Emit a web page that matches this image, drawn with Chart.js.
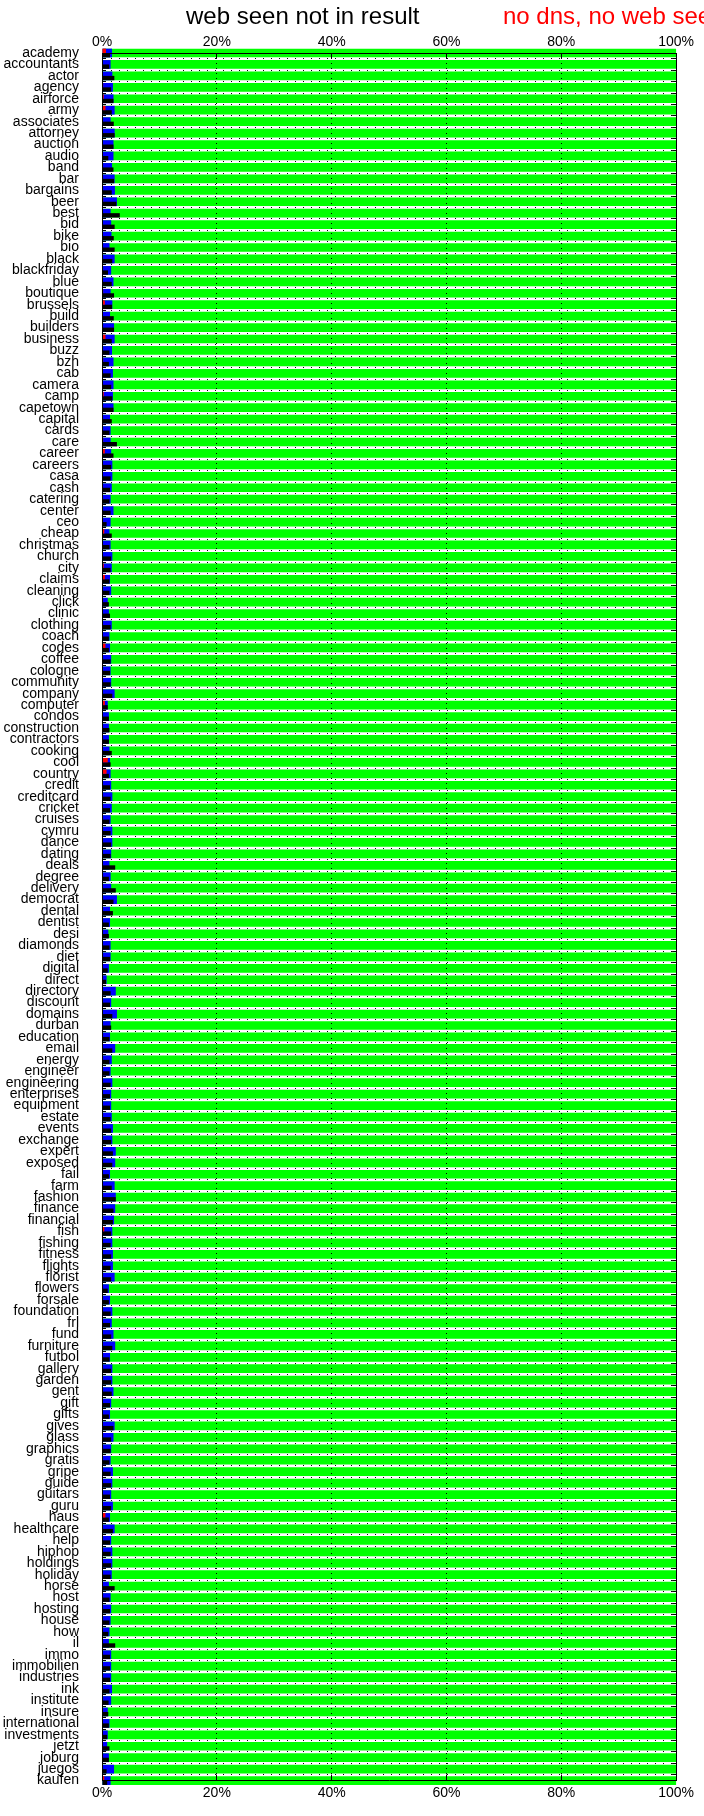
<!DOCTYPE html>
<html>
<head>
<meta charset="utf-8">
<script src="https://cdn.jsdelivr.net/npm/chart.js@4.4.1/dist/chart.umd.min.js"></script>
<style>
	html, body { margin: 0; padding: 0; background: #fff; }
	#wrap { position: relative; width: 704px; height: 1816px; overflow: hidden; }
	.key { position: absolute; top: 4px; font-family: 'Liberation Sans', Arial, sans-serif; font-size: 24px; line-height: 24px; white-space: nowrap; }
</style>
</head>
<body>
<div id="wrap">
	<canvas id="chart" width="704" height="1816"></canvas>
</div>
<script>
const tlds = [
	'academy', 'accountants', 'actor', 'agency', 'airforce', 'army', 'associates', 'attorney', 'auction', 'audio',
	'band', 'bar', 'bargains', 'beer', 'best', 'bid', 'bike', 'bio', 'black', 'blackfriday',
	'blue', 'boutique', 'brussels', 'build', 'builders', 'business', 'buzz', 'bzh', 'cab', 'camera',
	'camp', 'capetown', 'capital', 'cards', 'care', 'career', 'careers', 'casa', 'cash', 'catering',
	'center', 'ceo', 'cheap', 'christmas', 'church', 'city', 'claims', 'cleaning', 'click', 'clinic',
	'clothing', 'coach', 'codes', 'coffee', 'cologne', 'community', 'company', 'computer', 'condos', 'construction',
	'contractors', 'cooking', 'cool', 'country', 'credit', 'creditcard', 'cricket', 'cruises', 'cymru', 'dance',
	'dating', 'deals', 'degree', 'delivery', 'democrat', 'dental', 'dentist', 'desi', 'diamonds', 'diet',
	'digital', 'direct', 'directory', 'discount', 'domains', 'durban', 'education', 'email', 'energy', 'engineer',
	'engineering', 'enterprises', 'equipment', 'estate', 'events', 'exchange', 'expert', 'exposed', 'fail', 'farm',
	'fashion', 'finance', 'financial', 'fish', 'fishing', 'fitness', 'flights', 'florist', 'flowers', 'forsale',
	'foundation', 'frl', 'fund', 'furniture', 'futbol', 'gallery', 'garden', 'gent', 'gift', 'gifts',
	'gives', 'glass', 'graphics', 'gratis', 'gripe', 'guide', 'guitars', 'guru', 'haus', 'healthcare',
	'help', 'hiphop', 'holdings', 'holiday', 'horse', 'host', 'hosting', 'house', 'how', 'il',
	'immo', 'immobilien', 'industries', 'ink', 'institute', 'insure', 'international', 'investments', 'jetzt', 'joburg',
	'juegos', 'kaufen',
];

// percent of domains per tld
const noDns = [
	0.7, 0, 0, 0.2, 0.3, 0.6, 0, 0, 0, 0,
	0, 0, 0, 0.2, 0, 0, 0, 0, 0, 0,
	0, 0.2, 0.5, 0, 0, 0.6, 0, 0.2, 0, 0,
	0.3, 0, 0, 0, 0.2, 0.5, 0, 0, 0, 0,
	0, 0, 0.4, 0, 0, 0.3, 0.5, 0, 0, 0,
	0, 0, 0.6, 0, 0, 0, 0, 0.5, 0, 0,
	0, 0, 1.0, 0.8, 0, 0, 0, 0, 0, 0,
	0, 0, 0, 0, 0, 0, 0, 0, 0, 0,
	0, 0, 0, 0, 0, 0, 0, 0, 0, 0,
	0, 0, 0, 0, 0, 0, 0, 0, 0, 0,
	0, 0, 0, 0.4, 0, 0, 0, 0, 0, 0,
	0, 0, 0, 0, 0, 0, 0, 0, 0, 0,
	0, 0, 0, 0, 0, 0, 0, 0, 0.6, 0,
	0, 0, 0, 0, 0, 0, 0, 0, 0, 0,
	0, 0, 0, 0, 0, 0, 0, 0, 0, 0,
	0, 0.4,
];
const webNotInResult = [
	1.4, 1.25, 2.15, 1.6, 2.0, 1.7, 2.05, 2.2, 2.0, 1.1,
	2.0, 2.1, 1.7, 2.5, 3.1, 2.2, 2.05, 2.2, 1.8, 1.05,
	1.7, 2.1, 1.75, 2.05, 2.1, 1.7, 1.3, 1.2, 1.5, 1.6,
	1.8, 2.0, 1.7, 1.3, 2.6, 2.0, 1.6, 1.5, 1.4, 1.3,
	1.5, 0.8, 1.7, 1.3, 1.6, 1.5, 1.3, 1.3, 1.2, 1.4,
	1.5, 1.2, 1.2, 1.5, 1.4, 1.5, 1.8, 1.0, 1.2, 1.3,
	1.2, 1.7, 1.5, 1.2, 1.4, 1.5, 1.4, 1.3, 1.5, 1.6,
	1.5, 2.3, 1.2, 2.4, 2.0, 1.9, 1.2, 1.2, 1.3, 1.4,
	1.0, 0.7, 1.5, 1.4, 1.8, 1.6, 1.3, 1.8, 1.3, 1.3,
	1.5, 1.4, 1.4, 1.5, 1.6, 1.6, 1.9, 1.8, 1.2, 1.7,
	2.4, 2.0, 1.9, 1.6, 1.5, 1.6, 1.5, 1.6, 1.0, 1.2,
	1.5, 1.4, 1.6, 1.8, 1.3, 1.6, 1.6, 1.7, 1.4, 1.2,
	2.0, 1.6, 1.5, 1.3, 1.5, 1.6, 1.4, 1.6, 1.2, 1.9,
	1.4, 1.5, 1.6, 1.5, 2.2, 1.3, 1.4, 1.3, 1.1, 2.3,
	1.4, 1.4, 1.4, 1.3, 1.15, 1.1, 1.2, 0.9, 1.3, 1.2,
	0.8, 0.9,
];
const dnsOnly = [
	1.75, 1.5, 1.8, 1.9, 2.0, 2.2, 1.5, 2.2, 2.0, 2.0,
	1.75, 2.2, 2.25, 2.6, 1.5, 1.6, 1.65, 1.3, 2.2, 1.6,
	2.0, 1.5, 1.8, 1.4, 2.1, 2.2, 1.75, 2.0, 1.9, 2.0,
	1.9, 2.0, 1.4, 1.5, 1.5, 1.6, 1.8, 1.8, 1.7, 1.5,
	2.0, 1.5, 1.3, 1.5, 1.8, 1.7, 1.4, 1.6, 1.0, 1.2,
	1.7, 1.3, 1.4, 1.6, 1.5, 1.6, 2.2, 1.0, 1.2, 1.2,
	1.2, 1.3, 1.4, 1.5, 1.6, 1.8, 1.7, 1.5, 1.8, 1.8,
	1.6, 1.3, 1.5, 1.6, 2.6, 1.4, 1.4, 1.1, 1.5, 1.5,
	1.2, 0.8, 2.4, 1.6, 2.6, 1.5, 1.4, 2.3, 1.7, 1.5,
	1.8, 1.6, 1.6, 1.7, 1.9, 1.8, 2.4, 2.3, 1.4, 2.2,
	2.4, 2.3, 2.1, 1.8, 1.8, 1.9, 1.9, 2.2, 1.2, 1.4,
	1.8, 1.7, 2.0, 2.3, 1.4, 1.8, 1.8, 2.0, 1.6, 1.4,
	2.2, 2.0, 1.6, 1.5, 1.9, 1.8, 1.6, 1.9, 1.4, 2.2,
	1.6, 1.8, 1.8, 1.7, 1.2, 1.5, 1.6, 1.5, 1.3, 1.2,
	1.6, 1.6, 1.6, 1.75, 1.6, 1.0, 1.3, 1.0, 0.9, 1.2,
	2.1, 1.5,
];
const allDomains = [
	100, 100, 100, 100, 100, 100, 100, 100, 100, 100,
	100, 100, 100, 100, 100, 100, 100, 100, 100, 100,
	100, 100, 100, 100, 100, 100, 100, 100, 100, 100,
	100, 100, 100, 100, 100, 100, 100, 100, 100, 100,
	100, 100, 100, 100, 100, 100, 100, 100, 100, 100,
	100, 100, 100, 100, 100, 100, 100, 100, 100, 100,
	100, 100, 100, 100, 100, 100, 100, 100, 100, 100,
	100, 100, 100, 100, 100, 100, 100, 100, 100, 100,
	100, 100, 100, 100, 100, 100, 100, 100, 100, 100,
	100, 100, 100, 100, 100, 100, 100, 100, 100, 100,
	100, 100, 100, 100, 100, 100, 100, 100, 100, 100,
	100, 100, 100, 100, 100, 100, 100, 100, 100, 100,
	100, 100, 100, 100, 100, 100, 100, 100, 100, 100,
	100, 100, 100, 100, 100, 100, 100, 100, 100, 100,
	100, 100, 100, 100, 100, 100, 100, 100, 100, 100,
	100, 100,
];
const percentTicks = [0, 20, 40, 60, 80, 100];

const font = { family: "'Liberation Sans', Arial, sans-serif", size: 14 };

// gnuplot key: only the first two titles fit on the page
const keyItems = [
	{ label: 'web seen not in result', color: '#000000', left: 186 },
	{ label: 'no dns, no web seen', color: '#ff0000', left: 503 },
];
const $wrap = document.getElementById('wrap');
keyItems.forEach((item) => {
	const $span = document.createElement('span');
	$span.className = 'key';
	$span.style.left = item.left + 'px';
	$span.style.color = item.color;
	$span.textContent = item.label;
	$wrap.appendChild($span);
});

const xAxis = (position, height) => ({
	type: 'linear',
	position: position,
	min: 0,
	max: 100,
	afterBuildTicks: (axis) => {
		axis.ticks = percentTicks.map((v) => ({ value: v }));
	},
	afterFit: (axis) => {
		axis.height = height;
	},
	ticks: {
		color: '#000',
		font: font,
		padding: position === 'top' ? 8 : 10,
		maxRotation: 0,
		callback: (v) => v + '%',
	},
	grid: {
		z: 1,
		color: '#000',
		lineWidth: 1,
		drawOnChartArea: position === 'bottom',
		drawTicks: true,
		tickLength: -6,
		tickColor: '#000',
		tickWidth: 1,
	},
	border: { display: true, color: '#000', width: 1, z: 1, dash: [1, 4] },
});

let ctx = document.getElementById('chart').getContext('2d');
let dataChart = new Chart(ctx, {
	type: 'bar',
	data: {
		labels: tlds,
		datasets: [
			{
				label: keyItems[1].label,
				data: noDns,
				backgroundColor: '#ff0000',
				categoryPercentage: 0.76,
				barPercentage: 1,
				clip: false,
			},
			{
				label: keyItems[0].label,
				data: webNotInResult,
				backgroundColor: '#000000',
				categoryPercentage: 0.76,
				barPercentage: 1,
				clip: false,
			},
			{
				label: 'dns, no web',
				data: dnsOnly,
				backgroundColor: '#0000ff',
				grouped: false,
				categoryPercentage: 1,
				barPercentage: 0.76,
				clip: false,
			},
			{
				label: 'all',
				data: allDomains,
				backgroundColor: '#00ff00',
				grouped: false,
				categoryPercentage: 1,
				barPercentage: 0.76,
				clip: false,
			},
		],
	},
	options: {
		indexAxis: 'y',
		responsive: false,
		animation: false,
		devicePixelRatio: 1,
		layout: {
			padding: { top: 0, left: 0, right: 17, bottom: 0 },
		},
		scales: {
			x: xAxis('bottom', 21),
			x2: xAxis('top', 53),
			y: {
				type: 'category',
				position: 'left',
				offset: false,
				stacked: false,
				afterFit: (axis) => {
					axis.width = 102;
				},
				ticks: {
					autoSkip: false,
					color: '#000',
					font: font,
					padding: 27,
				},
				grid: {
					z: 1,
					color: '#000',
					lineWidth: 1,
					drawTicks: true,
					tickLength: -4,
					tickColor: '#000',
				},
				border: { display: true, color: '#000', width: 1, z: 1, dash: [1, 7] },
			},
			y2: {
				type: 'category',
				position: 'right',
				offset: false,
				afterFit: (axis) => {
					axis.width = 0;
				},
				ticks: { display: false, autoSkip: false },
				grid: {
					z: 1,
					drawOnChartArea: false,
					drawTicks: true,
					tickLength: -4,
					tickColor: '#000',
				},
				border: { display: true, color: '#000', width: 1, z: 1 },
			},
		},
		plugins: {
			legend: { display: false },
			tooltip: { enabled: false },
		},
	},
});
</script>
</body>
</html>
